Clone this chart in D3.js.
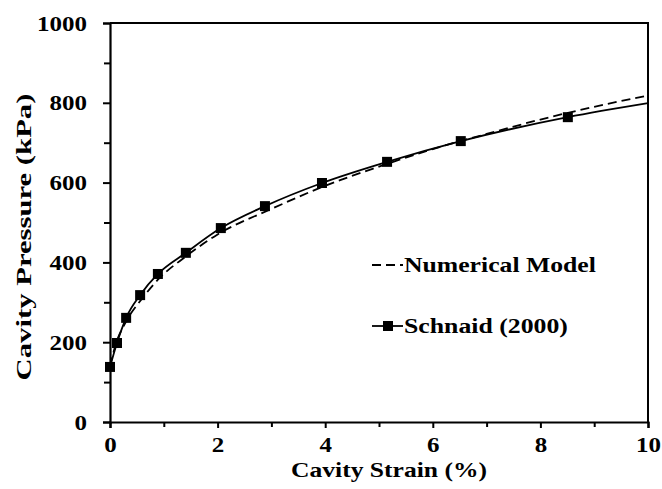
<!DOCTYPE html>
<html>
<head>
<meta charset="utf-8">
<script src="https://cdn.jsdelivr.net/npm/d3@7"></script>
<style>
  body { margin: 0; background: #fff; }
  svg text { font-family: "Liberation Serif", "Times New Roman", serif; font-weight: bold; fill: #000; }
</style>
</head>
<body>
<div id="grafico"></div>
<script>
// Dados
const schnaidStrain = [0, 0.13, 0.3, 0.56, 0.89, 1.41, 2.06, 2.88, 3.94, 5.15, 6.52, 8.51];
const schnaidPressure = [138, 198, 261, 318, 371, 424, 486, 541, 599, 652, 704, 764];
// extremidade da curva ajustada (sem marcador)
const schnaidEndStrain = 10;
const schnaidEndPressure = 799;

const modelStrain = [0, 0.1, 0.3, 0.6, 0.9, 1.4, 2, 3, 4, 5, 6, 7, 8, 9, 10];
const modelPressure = [140, 192, 252, 310, 358, 414, 470, 534, 592, 640, 684, 722, 758, 790, 818];

const xTicks = [0, 2, 4, 6, 8, 10];
const yTicks = [0, 200, 400, 600, 800, 1000];

function criarGrafico() {
  const largura = 662;
  const altura = 489;
  const margem = { top: 23, right: 14, bottom: 67, left: 110 };
  const w = largura - margem.left - margem.right;
  const h = altura - margem.top - margem.bottom;

  const svg = d3.select('#grafico')
    .append('svg')
    .attr('width', largura)
    .attr('height', altura);

  const g = svg.append('g')
    .attr('transform', `translate(${margem.left},${margem.top})`);

  const x = d3.scaleLinear().domain([0, 10]).range([0, w]);
  const y = d3.scaleLinear().domain([0, 1000]).range([h, 0]);

  // o texto do original é largo: estica na horizontal até o comprimento medido
  const esticar = (sel, comp, fonte = 22) => sel.each(function (d, i) {
    const t = d3.select(this).style('font-size', `${fonte}px`);
    const alvo = typeof comp === 'function' ? comp(d, i) : comp;
    const s = alvo / this.getComputedTextLength();
    const ax = +t.attr('x') || 0;
    const t0 = t.attr('transform') || '';
    t.attr('transform', `${t0} translate(${ax},0) scale(${s},1) translate(${-ax},0)`);
  });

  // Eixo X (ticks maiores e menores)
  const eixoX = g.append('g')
    .attr('transform', `translate(0,${h})`)
    .call(d3.axisBottom(x).tickValues(xTicks).tickSize(6).tickPadding(8).tickFormat(d3.format('d')));
  g.append('g')
    .attr('transform', `translate(0,${h})`)
    .call(d3.axisBottom(x).tickValues([1, 3, 5, 7, 9]).tickSize(5).tickFormat(''))
    .select('.domain').remove();

  // Eixo Y
  const eixoY = g.append('g')
    .call(d3.axisLeft(y).tickValues(yTicks).tickSize(7).tickPadding(16).tickFormat(d3.format('d')));
  g.append('g')
    .call(d3.axisLeft(y).tickValues([100, 300, 500, 700, 900]).tickSize(6).tickFormat(''))
    .select('.domain').remove();

  g.selectAll('.domain').attr('stroke-width', 2.2).attr('stroke', '#000');
  g.selectAll('.tick line').attr('stroke-width', 2).attr('stroke', '#000');
  [eixoX, eixoY].forEach((e) => esticar(e.selectAll('text'), (d) => String(d).length * 12.5));

  // Moldura superior e direita
  g.append('path')
    .attr('d', `M0,0H${w}V${h}`)
    .attr('fill', 'none')
    .attr('stroke', '#000')
    .attr('stroke-width', 2);

  // Curva do modelo numérico (tracejada)
  const modelo = modelStrain.map((s, i) => ({ s, p: modelPressure[i] }));
  const linha = d3.line()
    .x((d) => x(d.s))
    .y((d) => y(d.p))
    .curve(d3.curveMonotoneX);

  g.append('path')
    .datum(modelo)
    .attr('d', linha)
    .attr('fill', 'none')
    .attr('stroke', '#000')
    .attr('stroke-width', 1.8)
    .attr('stroke-dasharray', '9,5');

  // Curva de Schnaid (2000)
  const schnaid = schnaidStrain.map((s, i) => ({ s, p: schnaidPressure[i] }));
  const curvaSchnaid = schnaid.concat([{ s: schnaidEndStrain, p: schnaidEndPressure }]);

  g.append('path')
    .datum(curvaSchnaid)
    .attr('d', linha)
    .attr('fill', 'none')
    .attr('stroke', '#000')
    .attr('stroke-width', 1.8);

  const tam = 10;
  g.selectAll('.marcador')
    .data(schnaid)
    .enter()
    .append('rect')
    .attr('class', 'marcador')
    .attr('x', (d) => x(d.s) - tam / 2)
    .attr('y', (d) => y(d.p) - tam / 2)
    .attr('width', tam)
    .attr('height', tam)
    .attr('fill', '#000');

  // Legenda
  const leg = svg.append('g');
  leg.append('line')
    .attr('x1', 372).attr('x2', 403).attr('y1', 265).attr('y2', 265)
    .attr('stroke', '#000').attr('stroke-width', 1.8).attr('stroke-dasharray', '9,5');
  esticar(leg.append('text').attr('x', 404).attr('y', 272).text('Numerical Model'), 192);

  leg.append('line')
    .attr('x1', 372).attr('x2', 403).attr('y1', 326).attr('y2', 326)
    .attr('stroke', '#000').attr('stroke-width', 1.8);
  leg.append('rect')
    .attr('x', 383).attr('y', 321).attr('width', 10).attr('height', 10).attr('fill', '#000');
  esticar(leg.append('text').attr('x', 404).attr('y', 333).text('Schnaid (2000)'), 164);

  // Títulos dos eixos
  esticar(svg.append('text')
    .attr('x', 389)
    .attr('y', 477)
    .attr('text-anchor', 'middle')
    .text('Cavity Strain (%)'), 196);

  esticar(svg.append('text')
    .attr('transform', 'translate(31,237) rotate(-90)')
    .attr('text-anchor', 'middle')
    .text('Cavity Pressure (kPa)'), 287);
}

criarGrafico();
</script>
</body>
</html>
